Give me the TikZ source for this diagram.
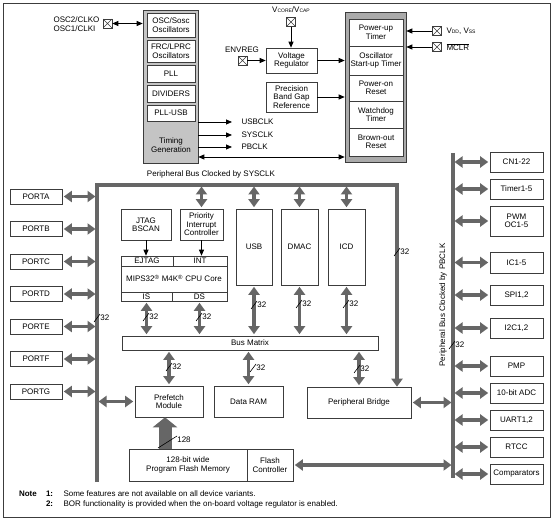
\documentclass[tikz,border=0pt]{standalone}
\usepackage{fontspec}
\setmainfont{Liberation Sans}
\usetikzlibrary{arrows.meta}
\definecolor{lineg}{RGB}{60,60,60}
\definecolor{busgray}{RGB}{102,102,102}
\definecolor{clkgray}{RGB}{196,196,196}
\definecolor{rstgray}{RGB}{170,170,170}
\begin{document}
\begin{tikzpicture}[x=1pt,y=-1pt,font=\fontsize{8}{8.5}\selectfont,
 every edge/.style = {draw, line width=0.8pt, arrows={-Triangle[length=6pt,width=5pt]}},
 blk/.style args = {#1/#2}{draw=lineg, line width=0.6pt, fill=white, minimum width=#1, minimum height=#2, inner sep=0pt, align=center},
 pin/.style = {draw=lineg, line width=0.6pt, minimum size=9pt, inner sep=0pt,
   path picture={\draw[lineg] (path picture bounding box.north west) -- (path picture bounding box.south east)
   (path picture bounding box.north east) -- (path picture bounding box.south west);}},
 dbl/.style = {arrows={Triangle[length=6pt,width=5pt]-Triangle[length=6pt,width=5pt]}},
 bus/.style = {draw=busgray, line width=3.5pt},
 bbus/.style = {draw=busgray, line width=3.5pt, shorten <=1.5pt, shorten >=1.5pt,
   arrows={Triangle[length=8pt,width=11pt]-Triangle[length=8pt,width=11pt]}},
 wdth/.style = {draw, line width=0.6pt}]

\useasboundingbox (0,0) rectangle (553,521);
\draw[lineg, line width=0.8pt] (3,3) rectangle (550,517);

% clock block
\node(clk) [blk=55/153, fill=clkgray] at (170.5,86.5) {};
\node(osc) [blk=48/24] at (171,25) {OSC/Sosc\\Oscillators};
\node(frc) [blk=48/22] at (171,51) {FRC/LPRC\\Oscillators};
\node(pll) [blk=48/17] at (171,73.5) {PLL};
\node(div) [blk=48/17] at (171,93.5) {DIVIDERS};
\node(pllusb) [blk=48/16] at (171,113) {PLL-USB};
\node(tgen) [align=center] at (171,145) {Timing\\Generation};

\node(oscpin) [pin] at (107.5,23.5) {};
\node(oscl) [anchor=west, align=left] at (50,24) {OSC2/CLKO\\OSC1/CLKI};

\node(usbclk) [anchor=west] at (238,122) {USBCLK};
\node(sysclk) [anchor=west] at (238,135) {SYSCLK};
\node(pbclk) [anchor=west] at (238,147) {PBCLK};
\coordinate(tg) at (270,157);

% regulator and reset
\node(vcapl) at (291,10) {V{\tiny CORE}/V{\tiny CAP}};
\node(vcappin) [pin] at (291,22) {};
\node(envl) at (242,50) {ENVREG};
\node(envpin) [pin] at (242.5,60.5) {};
\node(vreg) [blk=51/25] at (291.5,60.5) {Voltage\\Regulator};
\node(bgap) [blk=51/30] at (291.5,97) {Precision\\Band Gap\\Reference};

\node(rst) [blk=61/150, fill=rstgray] at (375.5,87) {};
\node(pwrt) [blk=54/27] at (376,32.5) {Power-up\\Timer};
\node(ost) [blk=54/29] at (376,60.5) {Oscillator\\Start-up Timer};
\node(por) [blk=54/26] at (376,88) {Power-on\\Reset};
\node(wdt) [blk=54/27] at (376,114.5) {Watchdog\\Timer};
\node(bor) [blk=54/28] at (376,142) {Brown-out\\Reset};

\node(vddpin) [pin] at (437,31) {};
\node(vddl) [anchor=west] at (443,31) {V{\tiny DD}, V{\tiny SS}};
\node(mclrpin) [pin] at (437,47) {};
\node(mclrl) [anchor=west] at (443,47) {$\overline{\hbox{MCLR}}$};
%
\path   (oscpin.east) edge [dbl] (oscpin.east -| clk.west)
        (usbclk.west -| clk.east) edge [shorten >=6pt] (usbclk.west)
        (sysclk.west -| clk.east) edge [shorten >=6pt] (sysclk.west)
        (pbclk.west -| clk.east) edge [shorten >=6pt] (pbclk.west)
        (tg -| clk.east) edge [dbl] (tg -| rst.west)
        (vcappin.south) edge (vcappin.south |- vreg.north)
        (envpin.east) edge (envpin.east -| vreg.west)
        (vreg.east) edge (vreg.east -| rst.west)
        (bgap.east) edge (bgap.east -| rst.west)
        (vddpin.west) edge (vddpin.west -| rst.east)
        (mclrpin.west) edge (mclrpin.west -| rst.east);

% system bus
\node(sysl) at (211,174) {Peripheral Bus Clocked by SYSCLK};
\coordinate(sysTL) at (97,185);
\coordinate(sysTR) at (397,185);
\coordinate(sysB) at (97,482);

\node(jtag) [blk=50/31] at (146,224.5) {JTAG\\BSCAN};
\node(pic) [blk=43/31] at (201.5,224.5) {Priority\\Interrupt\\Controller};
\node(cpu) [blk=106/45] at (174,278.5) {MIPS32\textsuperscript{\textregistered} M4K\textsuperscript{\textregistered} CPU Core};
\node(ejtag) [blk=52/10] at (147,261) {EJTAG};
\node(int) [blk=54/10] at (200,261) {INT};
\node(is) [blk=51/9] at (146.5,296.5) {IS};
\node(ds) [blk=55/9] at (199.5,296.5) {DS};

\node(usb) [blk=36/76] at (254,247) {USB};
\node(dmac) [blk=37/76] at (299.5,247) {DMAC};
\node(icd) [blk=37/76] at (346.5,247) {ICD};
\node(bm) [blk=256/14] at (250,343) {Bus Matrix};

\node(pref) [blk=68/31] at (169,401.5) {Prefetch\\Module};
\node(dram) [blk=69/31] at (248.5,401.5) {Data RAM};
\node(pbr) [blk=104/31] at (359,402.5) {Peripheral Bridge};
\node(pfm) [blk=118/32] at (188,465) {128-bit wide\\Program Flash Memory};
\node(fctl) [blk=46/32] at (270,465) {Flash\\Controller};
\coordinate(fa) at (165,449);

\draw[bus, line join=miter, arrows={-Triangle[length=8pt,width=11pt]}]
        (sysB) -- (sysTL) -- (sysTR) -- (sysTR |- pbr.north);
\draw[draw=busgray, line width=13pt, arrows={-Triangle[length=10pt,width=24pt]}]
        (fa) -- (fa |- pref.south);

% ports
\node(porta) [blk=52/15] at (36,196.5) {PORTA};
\node(portb) [blk=52/15] at (36,229) {PORTB};
\node(portc) [blk=52/15] at (36,261.5) {PORTC};
\node(portd) [blk=52/15] at (36,294) {PORTD};
\node(porte) [blk=52/15] at (36,326.5) {PORTE};
\node(portf) [blk=52/15] at (36,359) {PORTF};
\node(portg) [blk=52/15] at (36,391.5) {PORTG};

% peripheral bus
\coordinate(pbT) at (453,153);
\coordinate(pbB) at (453,478);
\draw[bus] (pbT) -- (pbB);
\node(pbl) [rotate=90] at (443,305) {Peripheral Bus Clocked by PBCLK};

\node(cn) [blk=53/20] at (516.5,162) {CN1-22};
\node(tmr) [blk=53/20] at (516.5,189) {Timer1-5};
\node(pwm) [blk=53/30] at (516.5,221) {PWM\\OC1-5};
\node(ic) [blk=53/21] at (516.5,262.5) {IC1-5};
\node(spi) [blk=53/20] at (516.5,295) {SPI1,2};
\node(iic) [blk=53/20] at (516.5,328) {I2C1,2};
\node(pmp) [blk=53/20] at (516.5,366) {PMP};
\node(adc) [blk=53/20] at (516.5,393) {10-bit ADC};
\node(uart) [blk=53/20] at (516.5,420) {UART1,2};
\node(rtcc) [blk=53/20] at (516.5,447) {RTCC};
\node(cmp) [blk=53/20] at (516.5,474) {Comparators};
%
\path   (porta.east) edge [bbus] (porta.east -| sysTL)
        (portb.east) edge [bbus] (portb.east -| sysTL)
        (portc.east) edge [bbus] (portc.east -| sysTL)
        (portd.east) edge [bbus] (portd.east -| sysTL)
        (porte.east) edge [bbus] (porte.east -| sysTL)
        (portf.east) edge [bbus] (portf.east -| sysTL)
        (portg.east) edge [bbus] (portg.east -| sysTL)
        (jtag.south) edge (jtag.south |- ejtag.north)
        (pic.south) edge (pic.south |- int.north)
        (pic.north |- sysTL) edge [bbus] (pic.north)
        (usb.north |- sysTL) edge [bbus] (usb.north)
        (dmac.north |- sysTL) edge [bbus] (dmac.north)
        (icd.north |- sysTL) edge [bbus] (icd.north)
        (is.south) edge [bbus] (is.south |- bm.north)
        (ds.south) edge [bbus] (ds.south |- bm.north)
        (usb.south) edge [bbus] (usb.south |- bm.north)
        (dmac.south) edge [bbus] (dmac.south |- bm.north)
        (icd.south) edge [bbus] (icd.south |- bm.north)
        (bm.south -| pref.north) edge [bbus] (pref.north)
        (bm.south -| dram.north) edge [bbus] (dram.north)
        (bm.south -| pbr.north) edge [bbus] (pbr.north)
        (pref.west -| sysTL) edge [bbus] (pref.west)
        (pbr.east) edge [bbus] (pbr.east -| pbT)
        (fctl.east) edge [bbus] (fctl.east -| pbT)
        (cn.west -| pbT) edge [bbus] (cn.west)
        (tmr.west -| pbT) edge [bbus] (tmr.west)
        (pwm.west -| pbT) edge [bbus] (pwm.west)
        (ic.west -| pbT) edge [bbus] (ic.west)
        (spi.west -| pbT) edge [bbus] (spi.west)
        (iic.west -| pbT) edge [bbus] (iic.west)
        (pmp.west -| pbT) edge [bbus] (pmp.west)
        (adc.west -| pbT) edge [bbus] (adc.west)
        (uart.west -| pbT) edge [bbus] (uart.west)
        (rtcc.west -| pbT) edge [bbus] (rtcc.west)
        (cmp.west -| pbT) edge [bbus] (cmp.west);

% bus widths
\draw[wdth] (94,322) -- (100,314) (99,318) node[right,inner sep=1pt] {32};
\draw[wdth] (394,256) -- (400,248) (399,252) node[right,inner sep=1pt] {32};
\draw[wdth] (143,321) -- (149,313) (148,317) node[right,inner sep=1pt] {32};
\draw[wdth] (196,321) -- (202,313) (201,317) node[right,inner sep=1pt] {32};
\draw[wdth] (251,309) -- (257,301) (256,305) node[right,inner sep=1pt] {32};
\draw[wdth] (296,308) -- (302,300) (301,304) node[right,inner sep=1pt] {32};
\draw[wdth] (343,308) -- (349,300) (348,304) node[right,inner sep=1pt] {32};
\draw[wdth] (166,371) -- (172,363) (171,367) node[right,inner sep=1pt] {32};
\draw[wdth] (250,372) -- (256,364) (255,368) node[right,inner sep=1pt] {32};
\draw[wdth] (354,373) -- (360,365) (359,369) node[right,inner sep=1pt] {32};
\draw[wdth] (449,349) -- (455,341) (454,345) node[right,inner sep=1pt] {32};
\draw[wdth] (158,448) -- (177,436) (176,440) node[right,inner sep=1pt] {128};

% notes
\node(note) [anchor=west, font=\fontsize{8}{8.5}\bfseries] at (15.5,494) {Note};
\node(n1) [anchor=west, font=\fontsize{8}{8.5}\bfseries] at (42.5,494) {1:};
\node(t1) [anchor=west] at (60,494) {Some features are not available on all device variants.};
\node(n2) [anchor=west, font=\fontsize{8}{8.5}\bfseries] at (42.5,504) {2:};
\node(t2) [anchor=west] at (60,504) {BOR functionality is provided when the on-board voltage regulator is enabled.};

\end{tikzpicture}
\end{document}
